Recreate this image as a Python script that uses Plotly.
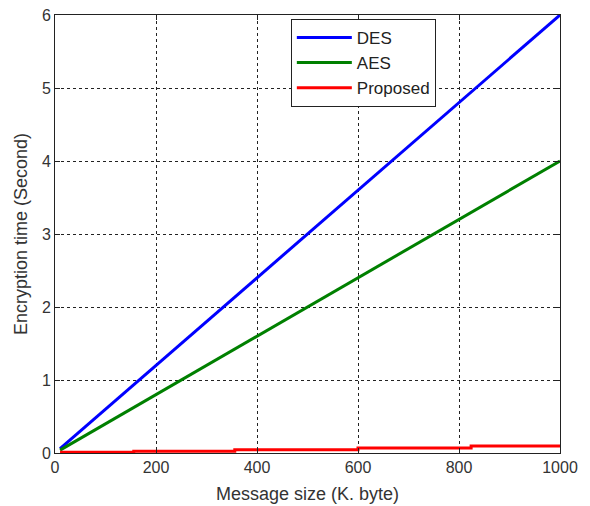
import plotly.graph_objects as go

# Data
msg_size = [10, 100, 200, 300, 400, 500, 600, 700, 800, 900, 1000]
des_time = [0.06, 0.6, 1.2, 1.8, 2.4, 3.0, 3.6, 4.2, 4.8, 5.4, 6.0]
aes_time = [0.04, 0.4, 0.8, 1.2, 1.6, 2.0, 2.4, 2.8, 3.2, 3.6, 4.0]
prop_size = [10, 156, 356, 600, 824, 1000]
prop_time = [0.01, 0.025, 0.045, 0.07, 0.095, 0.095]

x_ticks = [0, 200, 400, 600, 800, 1000]
y_ticks = [0, 1, 2, 3, 4, 5, 6]

FONT = "Liberation Sans, Arial"

fig = go.Figure()
fig.add_trace(go.Scatter(x=msg_size, y=des_time, mode="lines", name="DES",
                         line=dict(color="#0000ff", width=3)))
fig.add_trace(go.Scatter(x=msg_size, y=aes_time, mode="lines", name="AES",
                         line=dict(color="#008000", width=3)))
fig.add_trace(go.Scatter(x=prop_size, y=prop_time, mode="lines", name="Proposed",
                         line=dict(color="#ff0000", width=3, shape="hv")))

axis_common = dict(
    showline=True, linecolor="#222", linewidth=1, mirror="allticks",
    ticks="inside", ticklen=5, tickcolor="#222",
    showgrid=True, gridcolor="#222", gridwidth=1, griddash="3px,3px",
    zeroline=False, ticklabeloverflow="allow",
    tickfont=dict(family=FONT, size=16, color="#333"),
)

fig.update_xaxes(range=[0, 1000], tickvals=x_ticks, **axis_common,
                 title=dict(text="Message size (K. byte)",
                            font=dict(family=FONT, size=18, color="#333"),
                            standoff=12))
fig.update_yaxes(range=[0, 6], tickvals=y_ticks, **axis_common,
                 title=dict(text="Encryption time (Second)",
                            font=dict(family=FONT, size=18, color="#333"),
                            standoff=9))

fig.update_layout(
    width=582, height=498,
    margin=dict(l=47, r=30, t=7, b=53, autoexpand=False),
    plot_bgcolor="white", paper_bgcolor="white",
    legend=dict(x=0.467, y=0.991, xanchor="left", yanchor="top",
                bgcolor="white", bordercolor="#222", borderwidth=1,
                itemwidth=55,
                font=dict(family=FONT, size=17, color="#222")),
)

fig.write_html("out.html")
